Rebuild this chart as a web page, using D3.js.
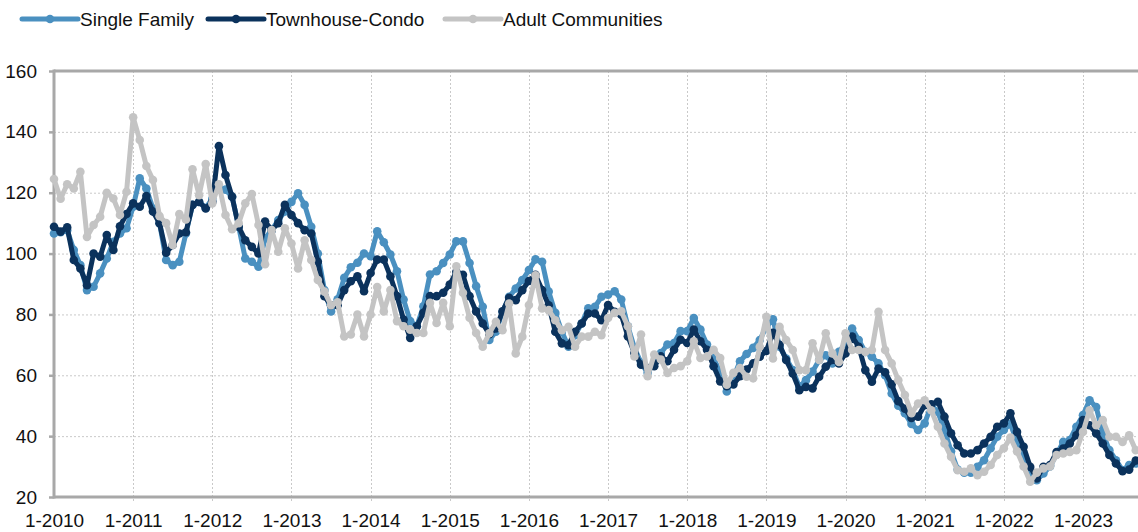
<!doctype html>
<html>
<head>
  <meta charset="utf-8">
  <title>months supply</title>
  <style>
    body { margin: 0; background: #fff; }
    #chart svg { display: block; font-family: "Liberation Sans", Arial, Helvetica, sans-serif; }
  </style>
</head>
<body>
  <div id="chart"></div>
  <script src="https://cdn.jsdelivr.net/npm/d3@7"></script>
  <script>
    // monthly, Jan 2010 .. Sep 2023
    const singleFamily = [
      106.6, 107, 107.7, 101.2, 96.2, 88, 89.1, 93.5, 98.4, 103.9, 106.6, 108.3,
      115.4, 124.7, 121.4, 114.8, 110, 97.9, 96.2, 97.3, 106.6, 116, 117, 115,
      118, 122, 121, 118.7, 108.8, 98.4, 97.3, 95.7, 105, 107.7, 111, 113.8,
      117, 119.8, 116, 108.8, 100, 88, 81, 85, 92, 95.5, 97, 100,
      99.1, 107.3, 103.7, 99.7, 94.2, 84.9, 77.8, 76.1, 82.7, 93.1, 94.2, 96.9,
      99.7, 104, 104, 96.9, 89.3, 82.5, 71.6, 74.3, 80.9, 85.8, 88.5, 91.3,
      94.6, 98.1, 97.3, 87.5, 80.5, 74.3, 69.4, 73.2, 77, 82, 82.5, 85.8,
      86.5, 87.6, 84.9, 76.1, 69, 64.1, 60.8, 64.1, 67.3, 70.1, 70.6, 74.5,
      74.5, 78.8, 75, 70.1, 65.7, 60.8, 54.7, 59.1, 64.6, 67, 69, 71.6,
      75.9, 78.4, 69.4, 65.5, 61.7, 56.2, 58.4, 61.2, 65, 66.6, 63.9, 67.7,
      70.5, 75.4, 71.6, 67.7, 66.1, 63.9, 60, 54, 50, 47.5, 44, 42,
      44.2, 50.2, 48, 42, 35, 29, 28, 28, 29.9, 32.1, 36, 39.8,
      42, 44, 38, 33, 27.7, 25.5, 27.7, 30, 34, 38.1, 38.7, 43.1,
      46.9, 51.8, 49.6, 40.9, 35.4, 32.1, 28.8, 30.5, 31
    ];
    const townhouseCondo = [
      108.8, 107.2, 108.6, 97.9, 95.1, 89.6, 100, 99, 106.1, 101.2, 109, 113,
      116.5, 115.4, 118.9, 113.8, 110, 100.3, 102.8, 106.6, 107, 116, 117, 114.8,
      117, 135.3, 125.8, 118.7, 108.8, 104.4, 102.2, 100, 110.5, 107.7, 110, 116,
      112.7, 110, 107.7, 106.6, 97.3, 86, 83, 83, 88, 90.9, 92.5, 87.6,
      93.6, 98, 98, 92.5, 86, 78.3, 72.3, 76.1, 80.5, 86, 86, 87.1,
      89.8, 94, 93, 86, 81, 77, 73.5, 75.4, 81, 85.5, 84.7, 88,
      91, 93, 88, 83, 74.3, 70.5, 69.9, 74.3, 77, 80.3, 80.3, 78.1,
      83.1, 80.9, 79.9, 72.8, 67.3, 63.5, 62.4, 63, 66.2, 64.6, 68.4, 71.7,
      70.6, 75, 71.2, 68.4, 63, 58, 56.4, 57, 59.7, 61.9, 63.9, 66.1,
      68, 74, 70, 65, 60.6, 55.1, 56.2, 55.7, 59.5, 62.8, 65, 63.9,
      67.2, 72.7, 69.4, 61.7, 57.9, 62.2, 61, 57, 51.5, 49, 46, 46.4,
      50.2, 50.5, 51.3, 46.4, 40.9, 37, 34.3, 34.3, 35.4, 37.6, 39.8, 43.1,
      44.2, 47.5, 41.4, 36.5, 29.9, 26.1, 29.9, 30.5, 34.8, 35.9, 37.6, 40.3,
      45.3, 43.6, 40.9, 37.6, 33.8, 31, 28.5, 29, 32
    ];
    const adultCommunities = [
      124.5, 118, 122.8, 121.4, 126.9, 105.5, 109.4, 112.1, 120, 118.1, 112.7, 120.3,
      144.8, 137.3, 128.8, 124.2, 112.3, 110, 102.8, 113, 111.2, 127.7, 119.2, 129.4,
      116.5, 122.8, 112.7, 108, 110, 116.5, 119.6, 109.4, 96.5, 107.7, 100.6, 108.3,
      103.3, 95.1, 104.4, 97.9, 91.3, 87.5, 83, 84, 72.8, 73.4, 80, 72.8,
      80, 89, 81, 88, 77.8, 76.1, 75, 73.9, 73.9, 83.8, 77.2, 83.8,
      76.1, 95.8, 87.1, 78.9, 73.9, 69.4, 73.8, 77.6, 74.8, 83.6, 67.2, 72.7,
      83.1, 92.9, 82, 81.4, 78.1, 74.8, 75.9, 69.4, 72.7, 72.7, 74.3, 73.2,
      78.8, 80.5, 81, 76.1, 66.2, 73.4, 59.7, 66.8, 65.2, 60.8, 62.4, 63,
      64.6, 71.2, 65.7, 66.2, 68.4, 65.7, 56.9, 60.8, 62.4, 59.5, 59, 69.4,
      79.2, 65.5, 75.9, 71.6, 68.3, 61.7, 61.7, 70.5, 65, 73.8, 67.2, 64.4,
      73.8, 68.3, 68.3, 67.7, 68.3, 80.9, 68.3, 63.9, 58.4, 53.5, 47.5, 50.7,
      51.8, 48.5, 43.1, 37.6, 33.2, 28.8, 28.3, 29.4, 27.2, 28.3, 30.5, 33.8,
      36, 39.5, 35, 30, 25, 28, 29.4, 30, 33.8, 34.3, 34.8, 35.4,
      41.4, 48.5, 43.6, 45.3, 39.8, 39.8, 38.1, 40.3, 35.4
    ];
    const yearLabels = ['1-2010', '1-2011', '1-2012', '1-2013', '1-2014', '1-2015', '1-2016',
      '1-2017', '1-2018', '1-2019', '1-2020', '1-2021', '1-2022', '1-2023'];
    const yTicks = [20, 40, 60, 80, 100, 120, 140, 160];

    const series = [
      { name: 'Single Family', values: singleFamily, color: '#4a90c0' },
      { name: 'Townhouse-Condo', values: townhouseCondo, color: '#0b325c' },
      { name: 'Adult Communities', values: adultCommunities, color: '#c4c4c4' }
    ];

    const width = 1138, height = 532;
    const plotLeft = 54, plotTop = 71, plotBottom = 497;
    const monthW = 6.596;

    const svg = d3.select('#chart').append('svg')
      .attr('width', width)
      .attr('height', height);

    const x = d3.scaleLinear()
      .domain([0, (width - plotLeft) / monthW])
      .range([plotLeft, width]);
    const y = d3.scaleLinear().domain([20, 160]).range([plotBottom, plotTop]);

    // grid
    const grid = svg.append('g')
      .attr('stroke', '#c9c9c9')
      .attr('stroke-width', 1)
      .attr('stroke-dasharray', '2,2');
    grid.selectAll('.gy').data(yTicks.slice(1, -1)).join('line')
      .attr('x1', plotLeft).attr('x2', width)
      .attr('y1', d => y(d) + 0.5).attr('y2', d => y(d) + 0.5);
    grid.selectAll('.gx').data(yearLabels.slice(1)).join('line')
      .attr('x1', (d, i) => Math.round(x((i + 1) * 12)) + 0.5)
      .attr('x2', (d, i) => Math.round(x((i + 1) * 12)) + 0.5)
      .attr('y1', plotTop).attr('y2', plotBottom + 5);

    // axes
    const yAxis = svg.append('g')
      .attr('transform', `translate(${plotLeft},0)`)
      .call(d3.axisLeft(y).tickValues(yTicks).tickSize(5).tickPadding(12));
    const xAxis = svg.append('g')
      .attr('transform', `translate(0,${plotBottom})`)
      .call(d3.axisBottom(x)
        .tickValues(yearLabels.map((d, i) => i * 12))
        .tickFormat((d, i) => yearLabels[i])
        .tickSize(0).tickPadding(17));

    [yAxis, xAxis].forEach(a => {
      a.selectAll('.domain').remove();
      a.selectAll('line').attr('stroke', '#a8a8a8').attr('stroke-width', 2.5);
      a.selectAll('text')
        .attr('fill', '#111')
        .style('font-size', '19px')
        .style('font-family', '"Liberation Sans", Arial, Helvetica, sans-serif');
    });

    const frame = svg.append('g').attr('stroke', '#a8a8a8').attr('stroke-width', 3);
    frame.append('line').attr('x1', plotLeft).attr('x2', plotLeft).attr('y1', plotTop - 1.5).attr('y2', plotBottom + 1.5);
    frame.append('line').attr('x1', plotLeft).attr('x2', width).attr('y1', plotBottom).attr('y2', plotBottom);
    frame.append('line').attr('x1', plotLeft).attr('x2', width).attr('y1', plotTop).attr('y2', plotTop);

    // lines
    const line = d3.line().x((d, i) => x(i)).y(d => y(d));
    const plot = svg.append('g');
    series.forEach(s => {
      const g = plot.append('g');
      g.append('path')
        .datum(s.values)
        .attr('fill', 'none')
        .attr('stroke', s.color)
        .attr('stroke-width', 5)
        .attr('stroke-linejoin', 'round')
        .attr('d', line);
      g.selectAll('circle').data(s.values).join('circle')
        .attr('cx', (d, i) => x(i))
        .attr('cy', d => y(d))
        .attr('r', 4.3)
        .attr('fill', s.color);
    });

    // legend
    const legendX = [22, 208, 445];
    const legend = svg.append('g').attr('transform', 'translate(0,19)');
    series.forEach((s, i) => {
      const g = legend.append('g').attr('transform', `translate(${legendX[i]},0)`);
      g.append('line').attr('x1', 0).attr('x2', 56)
        .attr('stroke', s.color).attr('stroke-width', 5).attr('stroke-linecap', 'round');
      g.append('circle').attr('cx', 28).attr('r', 4.3).attr('fill', s.color);
      g.append('text')
        .attr('x', 58).attr('dy', '0.35em')
        .attr('fill', '#111')
        .style('font-size', '19px')
        .text(s.name);
    });
  </script>
</body>
</html>
